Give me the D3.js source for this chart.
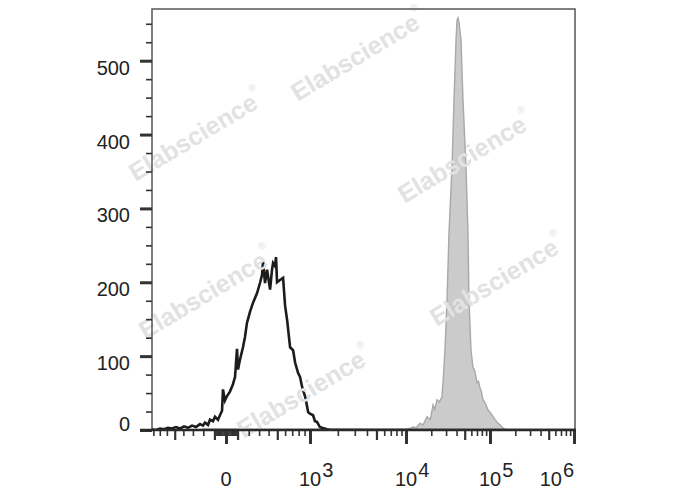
<!DOCTYPE html>
<html><head><meta charset="utf-8">
<script src="https://cdn.jsdelivr.net/npm/d3@7/dist/d3.min.js"></script>
<style>
body{margin:0;background:#fff}
svg{display:block}
text{font-family:"Liberation Sans",Arial,Helvetica,sans-serif}
</style>
</head><body>
<svg id="chart" width="688" height="490"></svg>
<script>
// ---------------- DATA ----------------
// y axis
const yMajorTicks = [0, 100, 200, 300, 400, 500];
const yMinorTicks = [25, 50, 75, 125, 150, 175, 225, 250, 275, 325, 350, 375, 425, 450, 475, 525, 550];
const yMax = 570;

// x axis (biexponential display)
const xDecades = [0, 1e3, 1e4, 1e5, 1e6];
const xDecadeLabels = [["0", ""], ["10", "3"], ["10", "4"], ["10", "5"], ["10", "6"]];
const xMediumTicks = [-500, -100, 100, 500, 5e3, 5e4, 5e5];
const xMinorTicks = [-800, -700, -600, -400, -300, -200,
  -90, -80, -70, -60, -50, -40, -30, -20, -10, 10, 20, 30, 40, 50, 60, 70, 80, 90,
  200, 300, 400, 600, 700, 800, 900,
  2e3, 3e3, 4e3, 6e3, 7e3, 8e3, 9e3,
  2e4, 3e4, 4e4, 6e4, 7e4, 8e4, 9e4,
  2e5, 3e5, 4e5, 6e5, 7e5, 8e5, 9e5];

// black (outline) histogram: fluorescence value and event count
const blackValues = [-822, -758, -697, -640, -585, -534, -485, -438, -393, -350, -309, -269, -231, -203, -184, -157, -139, -113, -95, -69, -52, -34, -26, -9, 9, 34, 60, 78, 95, 104, 121, 148, 166, 184, 212, 240, 279, 309, 330, 340, 361, 383, 416, 438, 450, 472, 485, 497, 534, 573, 600, 627, 669, 713, 744, 791, 822, 858, 911, 966, 1000, 1083, 1137, 1196, 1287, 1358, 1537, 1655, 3000, 1e5, 1e6];
const blackCounts = [1, 0, 2, 1, 3, 2, 4, 2, 5, 3, 6, 4, 8, 6, 10, 7, 14, 12, 18, 14, 20, 26, 55, 40, 46, 52, 62, 72, 110, 82, 95, 112, 126, 145, 160, 172, 185, 199, 210, 228, 199, 217, 190, 217, 226, 222, 234, 200, 203, 206, 168, 149, 112, 108, 91, 77, 72, 58, 45, 24, 22, 20, 12, 11, 4, 3, 1, 0, 0, 0, 0];

// gray (filled) histogram
const grayValues = [-230, -200, 0, 500, 2000, 5000, 10000, 11000, 12100, 13200, 14700, 16000, 17800, 19500, 21000, 22000, 23400, 25000, 26800, 27600, 29100, 30800, 32500, 35300, 37300, 39400, 40500, 41600, 42800, 45200, 47700, 51800, 54700, 56200, 59400, 62700, 66000, 70000, 73000, 76000, 79000, 82500, 88000, 94700, 100000, 108600, 115000, 124500, 132000, 139000, 150000, 170000, 1e6];
const grayCounts = [0, 1.5, 1.5, 1, 1.5, 1, 1.5, 2, 4, 3, 9, 7, 18, 14, 34, 28, 41, 38, 45, 64, 108, 176, 267, 356, 447, 528, 555, 558, 552, 528, 447, 356, 267, 176, 108, 85, 80, 64, 66, 57, 52, 41, 36, 27, 24, 18, 14, 9, 7, 4, 1, 0, 0];

const watermarkText = "Elabscience";

// ---------------- CHART ----------------
const svg = d3.select("#chart");
const plot = {left: 152, right: 575, top: 9, bottom: 430};

const asinhWidth = 500;
const h = v => Math.asinh(v / asinhWidth);
const xs = d3.scaleLinear()
  .domain([-1000, 0, 1e3, 1e4, 1e5, 1e6].map(h))
  .range([142, 226, 310, 406, 490, 574]);
const x = v => xs(h(v));
const y = d3.scaleLinear().domain([0, yMax]).range([plot.bottom, plot.top]);

svg.append("rect").attr("width", 688).attr("height", 490).attr("fill", "#fff");

svg.append("clipPath").attr("id", "clip").append("rect")
  .attr("x", plot.left).attr("y", plot.top)
  .attr("width", plot.right - plot.left).attr("height", plot.bottom - plot.top);

const gray = grayValues.map((v, i) => ({v, c: grayCounts[i]}));
const black = blackValues.map((v, i) => ({v, c: blackCounts[i]}));

const g = svg.append("g").attr("clip-path", "url(#clip)");
g.append("path").datum(gray)
  .attr("d", d3.area().x(d => x(d.v)).y0(y(0)).y1(d => y(d.c)))
  .attr("fill", "#cbcbcb").attr("stroke", "#a8a8a8").attr("stroke-width", 1.4);

// watermarks
const wmPos = [[358, 55], [196, 135], [465, 157], [497, 280], [206, 293], [304, 392]];
wmPos.forEach(([cx, cy]) => {
  const t = svg.append("text")
    .attr("transform", `translate(${cx},${cy}) rotate(-31)`)
    .attr("text-anchor", "middle").attr("dominant-baseline", "central")
    .attr("font-size", 25).attr("font-weight", "bold").attr("fill", "#e2e2e2");
  t.append("tspan").text(watermarkText);
  t.append("tspan").attr("font-size", 10).attr("dy", -12).attr("font-weight", "normal").text("®");
});

g.append("path").datum(black)
  .attr("d", d3.line().x(d => x(d.v)).y(d => y(d.c)))
  .attr("fill", "none").attr("stroke", "#1c1c1c").attr("stroke-width", 2.6)
  .attr("stroke-linejoin", "miter");

// frame
svg.append("path")
  .attr("d", `M${plot.left},${plot.bottom}V${plot.top}H${plot.right}V${plot.bottom}`)
  .attr("fill", "none").attr("stroke", "#555").attr("stroke-width", 1.5);

// y axis ticks
const yAxisMinor = svg.append("g").attr("transform", `translate(${plot.left},0)`)
  .call(d3.axisLeft(y).tickValues(yMinorTicks).tickSize(6).tickFormat(""));
const yAxisMajor = svg.append("g").attr("transform", `translate(${plot.left},0)`)
  .call(d3.axisLeft(y).tickValues(yMajorTicks).tickSize(12).tickFormat(""));
[yAxisMinor, yAxisMajor].forEach(a => a.select(".domain").remove());
yAxisMinor.selectAll("line").attr("stroke", "#333").attr("stroke-width", 1.6);
yAxisMajor.selectAll("line").attr("stroke", "#333").attr("stroke-width", 3);

svg.append("g").selectAll("text").data(yMajorTicks).join("text")
  .attr("x", 130).attr("y", d => y(d) + (d === 0 ? -6 : 7))
  .attr("text-anchor", "end").attr("dominant-baseline", "central")
  .attr("font-size", 20).attr("fill", "#222").text(d => d);

// x axis
const xAxisMinor = svg.append("g").attr("transform", `translate(0,${plot.bottom})`)
  .call(d3.axisBottom(xs).tickValues(xMinorTicks.map(h)).tickSize(6).tickFormat(""));
const xAxisMed = svg.append("g").attr("transform", `translate(0,${plot.bottom})`)
  .call(d3.axisBottom(xs).tickValues(xMediumTicks.map(h)).tickSize(10).tickFormat(""));
const xAxisMajor = svg.append("g").attr("transform", `translate(0,${plot.bottom})`)
  .call(d3.axisBottom(xs).tickValues(xDecades.map(h)).tickSize(14).tickFormat(""));
[xAxisMinor, xAxisMed, xAxisMajor].forEach(a => a.select(".domain").remove());
xAxisMinor.selectAll("line").attr("stroke", "#333").attr("stroke-width", 1.6);
xAxisMed.selectAll("line").attr("stroke", "#333").attr("stroke-width", 2.2);
xAxisMajor.selectAll("line").attr("stroke", "#333").attr("stroke-width", 3);

svg.append("line").attr("x1", 140).attr("x2", plot.right + 1)
  .attr("y1", plot.bottom).attr("y2", plot.bottom)
  .attr("stroke", "#2a2a2a").attr("stroke-width", 2.4);

// x labels
xDecades.forEach((v, i) => {
  const [base, sup] = xDecadeLabels[i];
  const last = i === xDecades.length - 1;
  const t = svg.append("text").attr("y", 486).attr("font-size", 20).attr("fill", "#222");
  if (!sup) {
    t.attr("x", x(v)).attr("text-anchor", "middle").text(base);
  } else if (last) {
    t.attr("x", x(v)).attr("text-anchor", "end");
    t.append("tspan").text(base);
    t.append("tspan").attr("dy", -9).attr("dx", 1).text(sup);
  } else {
    t.attr("x", x(v) - 11).attr("text-anchor", "start");
    t.append("tspan").text(base);
    t.append("tspan").attr("dy", -9).attr("dx", 1).text(sup);
  }
});
</script>
</body></html>
